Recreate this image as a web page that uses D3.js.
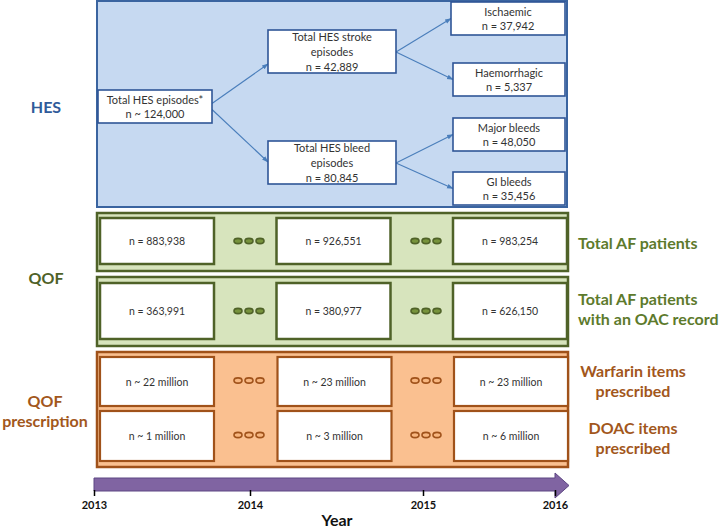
<!DOCTYPE html>
<html><head><meta charset="utf-8">
<script src="https://cdn.jsdelivr.net/npm/d3@7"></script>
<style>body{margin:0;background:#fff}svg{display:block}</style>
</head><body>
<script>
// ---- data ----
const years = [2013, 2014, 2015, 2016];
const hesRoot = {label: ["Total HES episodes*"], value: "n ~ 124,000"};
const hesMid = [
  {label: ["Total HES stroke", "episodes"], value: "n = 42,889"},
  {label: ["Total HES bleed", "episodes"], value: "n = 80,845"}
];
const hesLeaf = [
  {label: ["Ischaemic"], value: "n = 37,942", parent: 0},
  {label: ["Haemorrhagic"], value: "n = 5,337", parent: 0},
  {label: ["Major bleeds"], value: "n = 48,050", parent: 1},
  {label: ["GI bleeds"], value: "n = 35,456", parent: 1}
];
const afTotal = ["n = 883,938", "n = 926,551", "n = 983,254"];
const afOac = ["n = 363,991", "n = 380,977", "n = 626,150"];
const warfarin = ["n ~ 22 million", "n ~ 23 million", "n ~ 23 million"];
const doac = ["n ~ 1 million", "n ~ 3 million", "n ~ 6 million"];
const sectionLabels = [
  {lines: ["HES"], color: "#2f5b9a"},
  {lines: ["QOF"], color: "#4f6228"},
  {lines: ["QOF", "prescription"], color: "#a2571c"}
];
const rowLabels = [
  {lines: ["Total AF patients"], color: "#5d7a2c", anchor: "start"},
  {lines: ["Total AF patients", "with an OAC record"], color: "#5d7a2c", anchor: "start"},
  {lines: ["Warfarin items", "prescribed"], color: "#a2571c", anchor: "middle"},
  {lines: ["DOAC items", "prescribed"], color: "#a2571c", anchor: "middle"}
];

// ---- layout ----
const W = 722, H = 527;
const svg = d3.select("body").append("svg").attr("width", W).attr("height", H)
  .style("font-family", "Lato, 'Open Sans', sans-serif");

const defs = svg.append("defs");
defs.append("marker").attr("id", "arr").attr("viewBox", "0 0 10 10")
  .attr("refX", 9).attr("refY", 5).attr("markerWidth", 6).attr("markerHeight", 6)
  .attr("orient", "auto")
  .append("path").attr("d", "M0,1.5L10,5L0,8.5Z").attr("fill", "#4a7ebb");

const colX = d3.scalePoint().domain([0, 1, 2]).range([100, 453]);
const boxW = 114;

function textBox(g, x, y, w, h, lines, stroke, sw, fs) {
  g.append("rect").attr("x", x).attr("y", y).attr("width", w).attr("height", h)
    .attr("fill", "#fff").attr("stroke", stroke).attr("stroke-width", sw);
  const lh = fs * 1.32;
  const y0 = y + h / 2 - (lines.length - 1) * lh / 2;
  lines.forEach((t, i) => {
    g.append("text").attr("x", x + w / 2).attr("y", y0 + i * lh)
      .attr("text-anchor", "middle").attr("dominant-baseline", "central")
      .attr("font-size", fs).attr("fill", "#333").text(t);
  });
}

// HES section
const hes = svg.append("g");
hes.append("rect").attr("x", 97).attr("y", 1).attr("width", 470).attr("height", 206)
  .attr("fill", "#c6d9f1").attr("stroke", "#3a64a0").attr("stroke-width", 2);

const rootB = {x: 98, y: 90, w: 114, h: 33};
const midB = hesMid.map((d, i) => ({x: 268, y: [30, 141][i], w: 128, h: 43}));
const leafB = hesLeaf.map((d, i) => ({x: i === 0 ? 451 : 453, y: [2, 63, 118, 172][i], w: i === 0 ? 114 : 112, h: 33}));

const link = (x1, y1, x2, y2) => hes.append("line").attr("x1", x1).attr("y1", y1)
  .attr("x2", x2).attr("y2", y2).attr("stroke", "#4a7ebb").attr("stroke-width", 1.1)
  .attr("marker-end", "url(#arr)");
midB.forEach((b, i) => link(rootB.x + rootB.w, rootB.y + rootB.h / 2 + (i ? 3 : -3), b.x, i ? b.y + 21 : b.y + 34));
hesLeaf.forEach((d, i) => {
  const p = midB[d.parent], b = leafB[i];
  link(p.x + p.w, p.y + 22, b.x, b.y + b.h / 2);
});

textBox(hes, rootB.x, rootB.y, rootB.w, rootB.h, [...hesRoot.label, hesRoot.value], "#2f5597", 1.6, 11);
hesMid.forEach((d, i) => textBox(hes, midB[i].x, midB[i].y, midB[i].w, midB[i].h, [...d.label, d.value], "#2f5597", 1.6, 11));
hesLeaf.forEach((d, i) => textBox(hes, leafB[i].x, leafB[i].y, leafB[i].w, leafB[i].h, [...d.label, d.value], "#2f5597", 1.6, 11));

// dots
function dots(g, cx, cy, stroke, fill) {
  [-11, 0, 11].forEach(dx => g.append("ellipse").attr("cx", cx + dx).attr("cy", cy)
    .attr("rx", 4).attr("ry", 2.6).attr("fill", fill).attr("stroke", stroke).attr("stroke-width", 1.6));
}

// QOF bands
const qofRows = [
  {vals: afTotal, y: 213, h: 58, by: 218, bh: 46},
  {vals: afOac, y: 277, h: 69, by: 283, bh: 56}
];
qofRows.forEach(r => {
  const g = svg.append("g");
  g.append("rect").attr("x", 97).attr("y", r.y).attr("width", 471).attr("height", r.h)
    .attr("fill", "#d7e4bd").attr("stroke", "#4f6228").attr("stroke-width", 2.5);
  r.vals.forEach((v, i) => textBox(g, colX(i), r.by, boxW, r.bh, [v], "#4f6228", 2.5, 10.5));
  dots(g, 249, r.by + r.bh / 2, "#4f6228", "#77933c");
  dots(g, 426, r.by + r.bh / 2, "#4f6228", "#77933c");
});

// prescription band
const pres = svg.append("g");
pres.append("rect").attr("x", 97).attr("y", 352).attr("width", 471).attr("height", 115)
  .attr("fill", "#fac090").attr("stroke", "#a0521a").attr("stroke-width", 2.5);
[{vals: warfarin, y: 357, h: 49}, {vals: doac, y: 411, h: 50}].forEach(r => {
  r.vals.forEach((v, i) => textBox(pres, colX(i) + (i ? 1 : 0), r.y, boxW, r.h, [v], "#a0521a", 2.2, 10.5));
  dots(pres, 249, r.y + r.h / 2 - 1, "#a0521a", "#f7b67f");
  dots(pres, 426, r.y + r.h / 2 - 1, "#a0521a", "#f7b67f");
});

// section labels
const secY = [106, 277, 400];
sectionLabels.forEach((s, i) => {
  s.lines.forEach((t, j) => svg.append("text").attr("x", i === 2 ? 45 : 46)
    .attr("y", secY[i] + j * 20).attr("text-anchor", "middle").attr("dominant-baseline", "central")
    .attr("font-size", 16).attr("font-weight", "bold").attr("fill", s.color).text(t));
});

// row labels
const rowY = [242, 298, 370, 427];
rowLabels.forEach((s, i) => {
  s.lines.forEach((t, j) => svg.append("text").attr("x", s.anchor === "start" ? 578 : 633)
    .attr("y", rowY[i] + j * 20).attr("text-anchor", s.anchor).attr("dominant-baseline", "central")
    .attr("font-size", 16).attr("font-weight", "bold").attr("fill", s.color).text(t));
});

// year axis
const x = d3.scaleLinear().domain(years).range([94, 250, 423, 555]);
const ax = svg.append("g");
const by0 = 478, by1 = 491;
ax.append("path")
  .attr("d", `M${x(2013)},${by0}L${x(2016)},${by0}L${x(2016)},473L569,485.5L${x(2016)},498L${x(2016)},${by1}L${x(2013)},${by1}Z`)
  .attr("fill", "#8064a2").attr("stroke", "#5c4683").attr("stroke-width", 1);
const axis = d3.axisBottom(x).tickValues(years).tickFormat(d3.format("d")).tickSize(6).tickPadding(5);
const ag = svg.append("g").attr("transform", `translate(0,${by1 - 1})`).call(axis);
ag.select(".domain").remove();
ag.selectAll(".tick line").attr("stroke", "#000").attr("stroke-width", 1.5);
ag.selectAll(".tick text").attr("font-size", 11).attr("font-weight", "bold")
  .attr("font-family", "Lato, sans-serif").attr("fill", "#111");
svg.append("text").attr("x", 337).attr("y", 519).attr("text-anchor", "middle")
  .attr("dominant-baseline", "central").attr("font-size", 16).attr("font-weight", "bold")
  .attr("fill", "#111").text("Year");
</script>
</body></html>
